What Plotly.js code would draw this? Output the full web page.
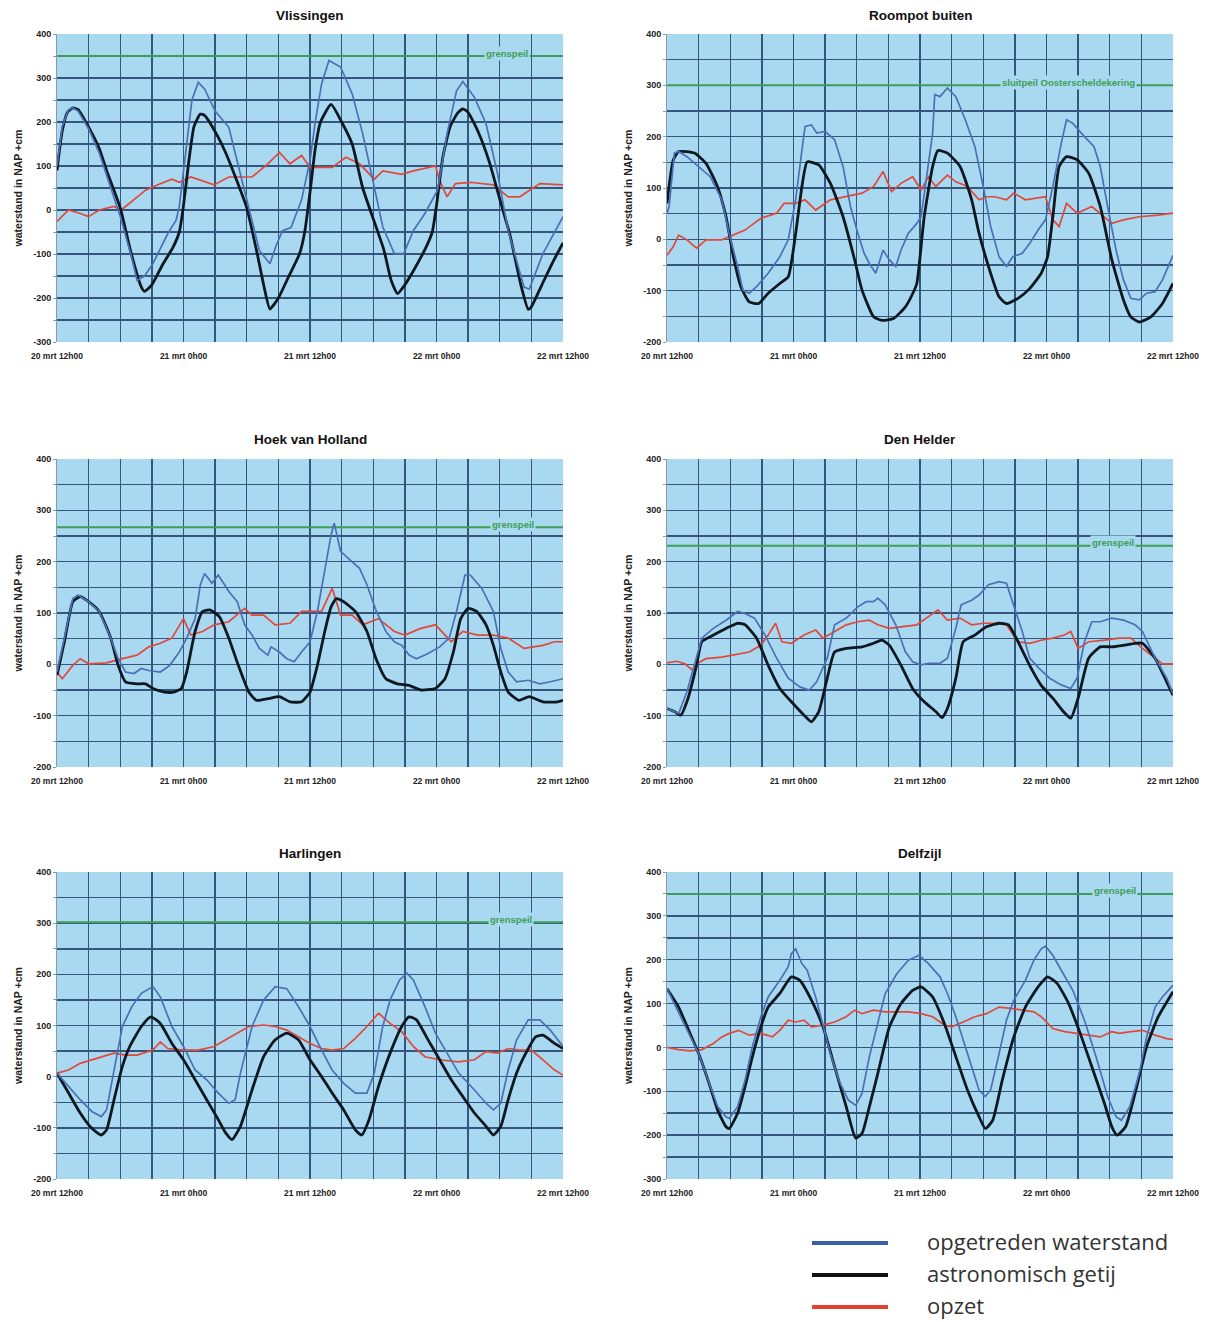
<!DOCTYPE html>
<html>
<head>
<meta charset="utf-8">
<script src="https://cdn.plot.ly/plotly-3.0.1.min.js"></script>
<style>
html,body{margin:0;padding:0;background:#ffffff;}
#chart{width:1215px;height:1322px;}
</style>
</head>
<body>
<div id="chart"></div>
<script>
// ---------- shared axis ticks ----------
const hourTicks = [0,3,6,9,12,15,18,21,24,27,30,33,36,39,42,45,48];
const hourLabels = ['20 mrt 12h00','','','','21 mrt 0h00','','','','21 mrt 12h00','','','','22 mrt 0h00','','','','22 mrt 12h00'];
const levelTicks = [-300,-250,-200,-150,-100,-50,0,50,100,150,200,250,300,350,400];
const levelLabels = ['-300','','-200','','-100','','0','','100','','200','','300','','400'];

const stationNames = ['Vlissingen','Roompot buiten','Hoek van Holland','Den Helder','Harlingen','Delfzijl'];
const levelMin = [-300,-200,-200,-200,-200,-300];
const levelMax = [400,400,400,400,400,400];
const thresholdLevel = [350,300,267,231,302,350];
const thresholdText = ['grenspeil','sluitpeil Oosterscheldekering','grenspeil','grenspeil','grenspeil','grenspeil'];
const thresholdLabelHour = [42.7,38.1,43.3,42.3,43.1,42.5];
const thresholdHours = [0,48];

const seriesNames = ['opgetreden waterstand','astronomisch getij','opzet'];

// ---------- Vlissingen ----------
const vlisObsX = [0,0.5,1.1,1.5,2,3,4,5,6,7,7.6,8.3,9.1,10.5,11.3,11.6,12.3,12.8,13.4,14,15,16.3,17,18.2,19.2,20.2,20.8,21.4,22.2,23.2,24,24.5,25.1,25.8,26.9,28,29,30.1,30.9,32,32.9,33.8,34.9,36.1,37,37.9,38.5,39.6,40.7,41.8,42.8,44.3,44.8,46.1,48];
const vlisObsY = [100,190,228,232,225,185,130,55,-15,-100,-160,-150,-122,-54,-23,8,158,250,290,275,225,188,120,8,-92,-122,-80,-47,-40,23,112,200,287,340,325,264,173,52,-38,-99,-99,-47,-8,45,173,271,292,256,196,82,-47,-175,-180,-99,-15];
const vlisAstX = [0,0.5,1,1.5,2,3,4,4.7,6,7,8,8.3,9,10,11,11.6,12,12.5,13,13.6,14,15,16,17,18,19,19.6,20.2,21,22,23,23.5,24,24.5,25,26,27,28,29,30,31,31.7,32.3,33,34,35,35.6,36,36.6,37.3,38,38.5,39,40,41,42,43,44,44.7,45,46,47,48];
const vlisAstY = [90,180,222,232,228,188,140,90,5,-95,-175,-185,-170,-125,-85,-50,10,110,190,218,215,178,130,70,5,-100,-170,-225,-200,-150,-100,-50,40,140,200,240,200,150,50,-20,-90,-160,-190,-170,-130,-85,-50,10,120,190,220,230,222,175,110,25,-60,-170,-226,-220,-170,-120,-75];
const vlisSurX = [0,1.1,2.2,3,4,5.4,6.1,7.3,8.4,9.1,10.9,11.6,12.7,14.9,16.3,18.5,20,21.1,22.1,23.2,24,26.1,27.4,28.7,30.1,30.9,32.7,33.8,35.2,35.9,36.3,37,37.8,39.2,41.4,42.8,43.9,45.8,48];
const vlisSurY = [-26,0,-8,-15,0,8,0,23,45,53,70,63,75,57,75,75,105,131,105,124,97,97,120,105,70,89,81,89,97,100,67,30,60,63,57,30,30,60,57];

// ---------- Roompot buiten ----------
const roomObsX = [0,0.2,0.7,1.1,1.9,3,4.1,5.2,5.9,6.7,7.2,7.8,8.5,9.6,10.7,11.5,12.2,12.8,13.1,13.7,14.2,15,15.9,16.7,17.4,18.1,18.7,19.2,19.8,20.5,21.1,21.7,22.2,22.9,23.7,24.1,24.6,25.2,25.4,25.9,26.6,27.4,28.3,29.2,30,30.7,31.5,32.2,32.8,33.7,34.4,35.2,35.9,36.6,37.4,37.9,38.5,39.6,40.5,41.1,41.8,42.6,43.3,44,44.8,45.5,46.3,47,48];
const roomObsY = [50,64,168,171,161,142,122,77,11,-53,-99,-105,-92,-66,-34,-1,77,174,220,223,207,210,194,142,64,12,-27,-47,-66,-21,-40,-53,-21,12,31,44,122,207,282,278,295,278,233,181,103,25,-34,-53,-34,-27,-8,18,38,103,187,233,226,200,181,142,64,-21,-79,-115,-118,-105,-102,-79,-31];
const roomAstX = [0,0.6,1.1,2.6,3.7,4.8,5.6,6.3,7,7.8,8.7,9.6,10.7,11.5,12.2,12.8,13.3,14.4,15.5,16.7,17.8,18.5,19.6,20.4,21.5,22.6,23.3,23.7,24.4,25.2,25.7,26.6,27.8,28.9,29.6,30.7,31.5,32.2,33.3,34.4,35.5,36.1,36.6,37.2,37.9,38.9,40,41.1,42.2,43.3,44,44.8,45.9,47,48];
const roomAstY = [70,155,171,168,148,102,44,-34,-92,-122,-125,-105,-86,-73,11,103,151,145,109,44,-40,-99,-151,-158,-154,-132,-106,-86,44,142,173,168,142,77,12,-66,-112,-125,-115,-96,-66,-34,44,142,161,155,129,64,-40,-118,-151,-161,-151,-125,-86];
const roomSurX = [0,0.6,1.1,1.9,2.8,3.7,5.2,6.3,7.4,8.9,10.4,11.1,12.2,13.1,14.1,15.5,17,18.5,19.6,20.5,21.3,22.2,23.3,24.1,24.8,25.5,26.6,27.4,28.5,29.6,30.3,31.1,32.2,32.9,34,35.2,35.9,36.6,37.2,37.9,38.9,40.3,41.5,42.2,43.3,44.8,46.6,48];
const roomSurY = [-31,-14,8,-1,-17,-1,-1,8,18,41,51,70,70,77,57,77,83,90,103,132,93,109,122,96,122,103,125,112,103,77,83,83,77,90,77,80,83,38,25,70,51,64,44,31,38,44,47,51];

// ---------- Hoek van Holland ----------
const hoekObsX = [0,0.7,1.5,2,3,4,5.1,5.8,6.5,7.3,8,8.7,9.8,10.7,11.6,12.3,13.1,13.6,14,14.7,15.3,16.3,17.1,17.8,18.5,19.2,20,20.3,21.1,21.8,22.5,23.2,24,24.7,25.4,26,26.3,26.9,27.6,28.7,29.4,30.3,31.2,32,32.7,33.4,34.1,35.2,36.3,37.2,37.9,38.7,39.2,40.3,41.4,42.1,42.8,43.6,44.7,45.8,46.8,48];
const hoekObsY = [-15,51,128,135,122,103,51,11,-15,-18,-8,-12,-15,-2,24,51,89,155,177,158,174,142,122,77,57,31,18,34,24,11,5,24,44,103,187,252,275,220,207,187,155,103,64,44,37,18,11,21,34,51,103,174,174,148,103,31,-15,-34,-31,-38,-34,-28];
const hoekAstX = [0,0.7,1.5,2.2,3,4,5.1,5.8,6.5,7.6,8.4,9.1,10.2,11.1,11.8,12.3,13.1,13.8,14.5,15.4,16.3,17.2,18.2,18.9,20,21.1,22.1,23.2,24,24.7,25.4,26,26.5,27.2,28.3,29.4,30.3,31.2,32.3,33.4,34.5,35.9,36.8,37.6,38.3,39,39.8,40.7,41.4,42.1,42.8,43.8,44.8,46.1,47.5,48];
const hoekAstY = [-21,44,122,132,122,103,51,-2,-34,-38,-38,-47,-54,-54,-47,-15,64,103,106,93,51,-2,-54,-70,-67,-63,-73,-73,-54,-2,64,112,128,122,103,64,9,-28,-38,-41,-50,-47,-28,24,89,109,103,77,37,-15,-54,-70,-63,-73,-73,-70];
const hoekSurX = [0,0.5,1.5,2.2,3,4.7,6.2,7.6,8.7,9.8,10.9,12,12.7,13.8,14.9,16.3,17.8,18.5,19.6,20.7,22.1,23.2,24,25.1,26.1,26.9,28,29,30.5,32,33,34.5,35.9,37.4,38.5,39.9,41.4,42.8,44.3,46.1,47.2,48];
const hoekSurY = [-15,-28,-2,11,1,3,11,18,34,41,51,89,57,64,77,83,109,96,96,77,80,103,103,103,148,96,96,77,89,64,57,70,77,44,64,57,57,51,31,37,44,44];

// ---------- Den Helder ----------
const heldObsX = [0,1.1,1.9,2.8,3.3,4.4,5.6,6.7,7.4,8.3,9.3,10.4,11.5,12.6,13.5,14.2,15.2,15.9,17,18.1,18.9,19.6,20,20.7,21.7,22.6,23.3,24.1,24.8,25.9,26.6,27.4,27.9,28.9,29.6,30.5,31.5,32.2,32.9,33.7,34.4,35.3,36.3,37.4,38.3,38.9,39.6,40.3,41.1,42.2,43.3,44.4,45.1,46.3,47.4,48];
const heldObsY = [-86,-96,-53,12,51,70,86,103,99,90,57,12,-27,-44,-50,-34,12,77,90,112,122,122,129,116,77,25,5,-1,2,2,12,70,116,125,135,155,161,158,116,64,12,-8,-27,-40,-47,-27,44,83,83,90,86,77,64,12,-27,-57];
const heldAstX = [0,0.7,1.3,2,2.8,3.3,4.4,5.6,6.7,7.4,8.5,9.6,10.7,11.8,13,13.7,14.4,15.2,15.9,17,18.5,19.6,20.4,21.1,22.2,23.3,24.4,25.5,26.1,26.6,27.4,28.1,29.2,30.3,31.5,32.4,33.3,34.4,35.5,36.6,37.6,38.3,39,40,41.1,42.2,43.3,44.4,45.1,46.3,47.4,48];
const heldAstY = [-86,-92,-99,-66,-2,44,57,70,80,77,51,-2,-47,-73,-99,-112,-92,-27,24,31,34,41,47,37,-2,-47,-73,-92,-104,-86,-27,44,57,73,80,77,44,-2,-41,-66,-92,-105,-66,12,34,34,37,41,41,12,-34,-60];
const heldSurX = [0,0.9,1.7,2.4,2.8,3.7,5.2,6.3,7.8,8.9,9.6,10.3,10.9,11.8,13,14.1,14.8,15.9,17,18.1,19.2,20,21.1,22.2,23.7,24.8,25.7,26.6,27.8,28.9,30,31.1,32.2,33.3,34.4,35.5,36.6,37.7,38.3,39,40,41.5,42.9,44,45.1,46.3,47,48];
const heldSurY = [3,6,1,-11,1,11,14,18,24,37,57,80,44,41,57,67,51,64,77,83,86,77,70,73,77,93,106,86,90,77,80,80,77,44,41,47,51,57,64,31,44,47,51,51,31,12,1,1];

// ---------- Harlingen ----------
const harlObsX = [0,1.1,2.2,3.3,4.2,4.7,5.4,6.2,7.1,8,9.1,9.8,10.9,12,13.1,14.2,15.3,16.3,16.9,17.4,18.5,19.6,20.7,21.8,22.9,24,25.1,26.1,27.2,28.3,29.4,30.1,30.9,31.6,32.5,33.2,33.8,34.9,35.9,37,38.1,39.6,40.7,41.4,42.1,42.8,43.6,44.7,45.8,46.8,48];
const harlObsY = [7,-19,-45,-68,-78,-65,13,98,137,163,176,156,98,59,13,-6,-32,-52,-45,7,98,150,176,172,137,98,52,13,-13,-32,-32,7,98,150,189,202,189,137,85,46,7,-26,-52,-65,-52,13,72,111,111,91,59];
const harlAstX = [0,1.1,2.2,3.3,4.2,4.7,5.4,6.2,6.9,8,8.9,9.8,10.9,12,13.1,14.2,15.3,16,16.6,17.4,18.5,19.6,20.7,21.8,22.9,24,25.1,26.1,27.2,28.3,28.9,29.6,30.5,31.6,32.7,33.4,34.1,35.2,36.3,37.4,38.5,39.6,40.7,41.4,42.1,42.8,43.6,44.3,45.4,46.1,47.2,48];
const harlAstY = [7,-32,-71,-101,-114,-104,-46,20,59,98,117,104,65,33,-6,-45,-84,-110,-123,-97,-26,39,72,85,72,33,0,-32,-65,-104,-114,-84,-19,46,98,117,111,72,33,-6,-39,-71,-97,-114,-97,-45,7,39,78,81,65,55];
const harlSurX = [0,1.1,2.2,3.3,4.4,5.4,6.5,7.6,9.1,9.8,10.5,12,13.4,14.9,16,17.1,18.2,19.6,20.7,21.8,22.9,24,25.1,26.1,27.2,28.3,29.4,30.5,31.6,32.7,33.8,34.9,36.3,38.1,39.6,40.7,41.8,42.8,43.9,45,46.1,47.2,48];
const harlSurY = [7,13,26,33,39,46,42,42,52,68,55,52,52,59,72,85,98,101,98,91,78,65,55,52,55,75,98,124,104,88,59,39,33,29,33,49,46,55,52,52,33,13,3];

// ---------- Delfzijl ----------
const delfObsX = [0,3,4.8,5.6,5.9,6.7,7.4,8.1,8.9,9.6,10.7,11.5,11.8,12.2,12.8,13.3,14.1,14.8,15.5,16.3,17.2,17.9,18.5,19.2,20,20.7,21.8,22.9,23.9,24.8,25.9,26.6,27.4,28.1,28.9,29.6,30.2,30.7,31.5,32.2,32.9,34,34.8,35.5,35.9,36.6,37.4,38.5,39.6,40.7,41.8,42.6,43.1,43.9,44.8,45.5,46.3,47,48];
const delfObsY = [134,-14,-135,-158,-162,-135,-75,2,70,115,153,184,214,225,191,176,115,47,-14,-75,-120,-132,-105,-21,55,123,168,199,210,191,161,123,70,17,-44,-97,-112,-97,-14,62,108,153,199,225,231,210,176,130,62,-21,-112,-158,-166,-135,-59,24,92,115,142];
const delfAstX = [0,1.1,2.2,3,4.1,4.8,5.6,5.9,6.7,7.4,8.1,8.9,9.6,10.7,11.8,12.6,13.7,14.8,15.9,17,17.9,18.5,19.2,20,21.1,22.2,23.3,24.1,25.2,26.3,27.4,28.5,29.6,30.2,30.9,31.8,32.9,34,35.2,36.1,37,38.1,39.2,40.3,41.5,42.2,42.7,43.5,44.4,45.5,46.6,48];
const delfAstY = [134,92,31,-14,-90,-143,-181,-185,-150,-90,-21,47,92,123,161,153,108,47,-44,-135,-207,-196,-135,-59,47,100,130,138,115,55,-21,-97,-158,-185,-166,-75,24,92,138,161,146,100,32,-44,-128,-181,-200,-181,-105,2,70,127];
const delfSurX = [0,1.1,2.2,3.3,4.4,5.2,5.9,6.8,7.8,8.9,10,10.7,11.5,12.2,13,13.7,14.8,15.9,17,17.8,18.5,19.6,20.7,21.8,22.9,24.1,25.2,26.3,27,28.1,29.2,30.3,31.5,32.6,33.7,34.8,35.5,36.6,37.7,38.9,40,41.1,42.2,42.9,44,45.1,46.3,47.4,48];
const delfSurY = [0,-5,-8,-5,9,24,32,39,28,32,24,39,62,58,62,47,51,58,70,85,77,85,81,81,81,77,70,51,47,58,70,77,92,89,85,81,70,43,36,32,28,24,36,32,36,39,28,20,18];

// ---------- styling ----------
const obsColor = '#4a70b5';
const astColor = '#0e1820';
const surColor = '#e2483a';
const thrColor = '#3c9f55';
const plotBg = '#a9d9f1';
const gridColor = '#34557c';
const fontFam = 'Liberation Sans, Arial, sans-serif';

const W = 1215, H = 1322;
const colPx = [[57,563],[667,1173]];
const rowPx = [[34,342],[459,767],[872,1179]];
const titlePx = [15,440,853];

const panelData = [
  [vlisObsX,vlisObsY,vlisAstX,vlisAstY,vlisSurX,vlisSurY],
  [roomObsX,roomObsY,roomAstX,roomAstY,roomSurX,roomSurY],
  [hoekObsX,hoekObsY,hoekAstX,hoekAstY,hoekSurX,hoekSurY],
  [heldObsX,heldObsY,heldAstX,heldAstY,heldSurX,heldSurY],
  [harlObsX,harlObsY,harlAstX,harlAstY,harlSurX,harlSurY],
  [delfObsX,delfObsY,delfAstX,delfAstY,delfSurX,delfSurY]
];

const traces = [];
const layout = {
  width: W, height: H,
  margin: {l:0,r:0,t:0,b:0},
  paper_bgcolor: '#ffffff',
  plot_bgcolor: plotBg,
  showlegend: false,
  font: {family: fontFam, color: '#111'},
  annotations: [],
  shapes: []
};

for (let i = 0; i < 6; i++) {
  const col = i % 2, row = Math.floor(i / 2);
  const xa = 'x' + (i ? i + 1 : ''), ya = 'y' + (i ? i + 1 : '');
  const xKey = 'xaxis' + (i ? i + 1 : ''), yKey = 'yaxis' + (i ? i + 1 : '');
  const d = panelData[i];

  traces.push({x: thresholdHours, y: [thresholdLevel[i], thresholdLevel[i]], xaxis: xa, yaxis: ya, mode: 'lines',
    line: {color: thrColor, width: 2}, hoverinfo: 'skip'});
  traces.push({x: d[4], y: d[5], xaxis: xa, yaxis: ya, mode: 'lines', name: seriesNames[2],
    line: {color: surColor, width: 1.7}, hoverinfo: 'skip'});
  traces.push({x: d[2], y: d[3], xaxis: xa, yaxis: ya, mode: 'lines', name: seriesNames[1],
    line: {color: astColor, width: 2.8, shape: 'spline', smoothing: 0.5}, hoverinfo: 'skip'});
  traces.push({x: d[0], y: d[1], xaxis: xa, yaxis: ya, mode: 'lines', name: seriesNames[0],
    line: {color: obsColor, width: 1.7}, hoverinfo: 'skip'});

  layout[xKey] = {
    domain: [colPx[col][0] / W, colPx[col][1] / W],
    anchor: ya, range: [0, 48], fixedrange: true,
    tickmode: 'array', tickvals: hourTicks, ticktext: hourLabels,
    showgrid: true, gridcolor: gridColor, gridwidth: 1.3,
    zeroline: false, showline: false,
    ticks: 'outside', ticklen: 6, tickcolor: 'rgba(0,0,0,0)',
    tickfont: {size: 8.5, weight: 'bold', color: '#222', family: fontFam}
  };
  layout[yKey] = {
    domain: [1 - rowPx[row][1] / H, 1 - rowPx[row][0] / H],
    anchor: xa, range: [levelMin[i], levelMax[i]], fixedrange: true,
    tickmode: 'array', tickvals: levelTicks, ticktext: levelLabels,
    showgrid: true, gridcolor: gridColor, gridwidth: 1.5,
    zeroline: false, showline: true, linecolor: '#8a9aa8', linewidth: 1,
    ticks: 'outside', ticklen: 3, tickcolor: '#8a9aa8',
    tickfont: {size: 9, weight: 'bold', color: '#222', family: fontFam},
    title: {text: 'waterstand in NAP +cm', standoff: 8,
      font: {size: 10.5, weight: 'bold', color: '#222', family: fontFam}}
  };

  layout.annotations.push({
    text: stationNames[i], xref: 'paper', yref: 'paper',
    x: (colPx[col][0] + colPx[col][1]) / 2 / W, y: 1 - titlePx[row] / H,
    xanchor: 'center', yanchor: 'middle', showarrow: false,
    font: {size: 13.5, weight: 'bold', color: '#111', family: fontFam}
  });
  layout.annotations.push({
    text: thresholdText[i], xref: xa, yref: ya,
    x: thresholdLabelHour[i], y: thresholdLevel[i],
    xanchor: 'center', yanchor: 'middle', showarrow: false,
    bgcolor: plotBg, borderpad: 1, yshift: 3,
    font: {size: 9.5, weight: 'bold', color: thrColor, family: fontFam}
  });
}

// ---------- legend (bottom right) ----------
const legendRowPx = [1243, 1275, 1307];
const legendLineColors = ['#3a5ea8', '#111111', '#e5412d'];
for (let k = 0; k < 3; k++) {
  const yp = 1 - legendRowPx[k] / H;
  layout.shapes.push({type: 'line', xref: 'paper', yref: 'paper',
    x0: 812 / W, x1: 888 / W, y0: yp, y1: yp,
    line: {color: legendLineColors[k], width: 4}});
  layout.annotations.push({text: seriesNames[k], xref: 'paper', yref: 'paper',
    x: 925 / W, y: yp, xanchor: 'left', yanchor: 'middle', showarrow: false, yshift: 2,
    font: {size: 22, color: '#333', family: 'Open Sans, Noto Sans, sans-serif'}});
}

Plotly.newPlot('chart', traces, layout, {displayModeBar: false, staticPlot: true});
</script>
</body>
</html>
